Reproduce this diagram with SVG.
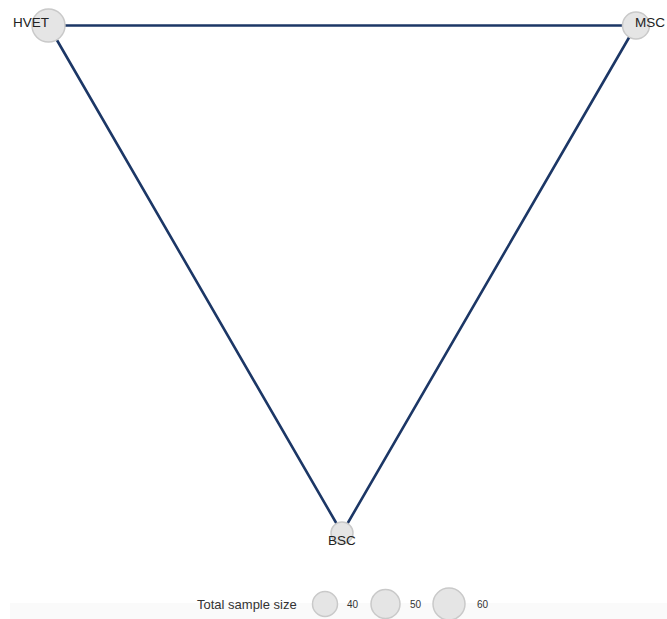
<svg xmlns="http://www.w3.org/2000/svg" width="667" height="619" viewBox="0 0 667 619">
<style>
.edge{stroke:#1c3766;stroke-width:2.6;fill:none;stroke-linecap:round}
.node{fill:#e5e5e5;stroke:#c9c9c9;stroke-width:1.5}
.lbl{font-family:"Liberation Sans",Arial,sans-serif;font-size:13.5px;fill:#222}
.leg{font-family:"Liberation Sans",Arial,sans-serif;font-size:13px;fill:#333}
.num{font-family:"Liberation Sans",Arial,sans-serif;font-size:10px;fill:#333}
</style>
<rect x="0" y="0" width="667" height="619" fill="#ffffff"/>
<rect x="10" y="603" width="657" height="16" fill="#fafafa"/>
<g id="connectors">
<line class="edge" x1="48.5" y1="25.5" x2="636" y2="25.5"/>
<line class="edge" x1="48.5" y1="25.5" x2="342" y2="533"/>
<line class="edge" x1="636" y1="25.5" x2="342" y2="533"/>
</g>
<g id="node-HVET">
<circle class="node" cx="48.5" cy="25.5" r="16.5"/>
<text class="lbl" x="49" y="26.5" text-anchor="end">HVET</text>
</g>
<g id="node-MSC">
<circle class="node" cx="636" cy="25.5" r="13.5"/>
<text class="lbl" x="635" y="27" text-anchor="start">MSC</text>
</g>
<g id="node-BSC">
<circle class="node" cx="342" cy="533" r="11"/>
<text class="lbl" x="342" y="545" text-anchor="middle">BSC</text>
</g>
<g id="legend">
<text class="leg" x="197" y="609">Total sample size</text>
<circle class="node" cx="325" cy="604" r="12.5"/>
<text class="num" x="347" y="608">40</text>
<circle class="node" cx="385.5" cy="604" r="14.5"/>
<text class="num" x="410" y="608">50</text>
<circle class="node" cx="449" cy="604" r="16"/>
<text class="num" x="477" y="608">60</text>
</g>
</svg>
